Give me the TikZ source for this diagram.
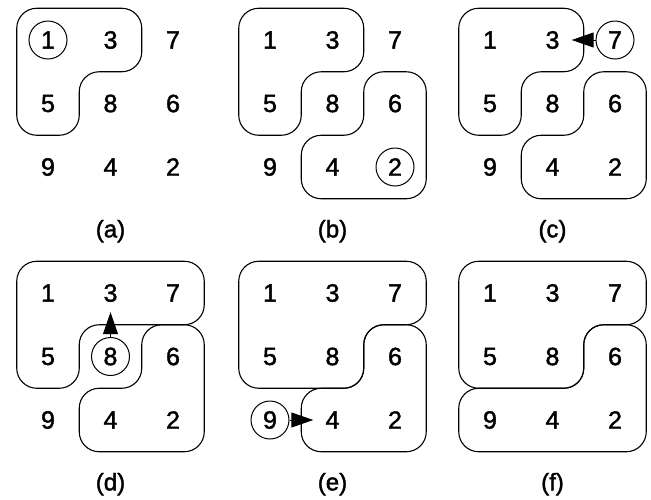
\documentclass[tikz,border=0pt]{standalone}
\usepackage{fontspec}
\setmainfont{Liberation Sans}
\newfontfamily\gridfont[FakeBold=1.6]{Liberation Sans}
\usetikzlibrary{arrows.meta}

\tikzset{
  digit/.style={circle, minimum size=38pt, inner sep=0pt, font=\gridfont\fontsize{25}{29}\selectfont},
  picked/.style={draw, line width=1pt},
  blob/.style={draw, line width=1.1pt, rounded corners=20pt},
  arr/.style={-{Triangle[length=22pt,width=15pt]}, line width=1pt},
  caption/.style={font=\gridfont\fontsize{24}{28}\selectfont}
}

% 3x3 grid of digits; #1 = panel letter, #2 = circled digit (0 for none)
\newcommand\gridcells[2]{%
  \foreach \d [count=\k from 0] in {1,3,7,5,8,6,9,4,2}{
    \pgfmathtruncatemacro\cc{mod(\k,3)}
    \pgfmathtruncatemacro\rr{\k/3}
    \ifnum\d=#2\relax\def\extra{picked}\else\def\extra{}\fi
    \node[digit,\extra] (#1-\d) at (\cc+0.5,\rr+0.5) {\d};
  }%
}
% region outlines, in grid-line units
\newcommand\regionA{\draw[blob] (0,0) -- (2,0) -- (2,1) -- (1,1) -- (1,2) -- (0,2) -- cycle;}
\newcommand\regionB{\draw[blob] (2,1) -- (3,1) -- (3,3) -- (1,3) -- (1,2) -- (2,2) -- cycle;}
\newcommand\regionC{\draw[blob] (0,0) -- (3,0) -- (3,1) -- (1,1) -- (1,2) -- (0,2) -- cycle;}
\newcommand\regionD{\draw[blob] (0,0) -- (3,0) -- (3,1) -- (2,1) -- (2,2) -- (0,2) -- cycle;}
\newcommand\regionE{\draw[blob] (2,1) -- (3,1) -- (3,3) -- (0,3) -- (0,2) -- (2,2) -- cycle;}

\begin{document}
\begin{tikzpicture}[x=1pt, y=-1pt]
\useasboundingbox (0,0) rectangle (651,499);

% (a)
\begin{scope}[xshift=16.75pt, yshift=-8.25pt, x=62.5pt, y=-63.5pt]
  \gridcells{a}{1}
  \regionA
  \node[caption] (a-cap) at (1.5,3.51) {(a)};
\end{scope}

% (b)
\begin{scope}[xshift=238.75pt, yshift=-8.25pt, x=62.5pt, y=-63.5pt]
  \gridcells{b}{2}
  \regionA
  \regionB
  \node[caption] (b-cap) at (1.5,3.51) {(b)};
\end{scope}

% (c)
\begin{scope}[xshift=458.75pt, yshift=-8.25pt, x=62.5pt, y=-63.5pt]
  \gridcells{c}{7}
  \regionA
  \regionB
  \draw[arr] (c-7) -- (c-3);
  \node[caption] (c-cap) at (1.5,3.51) {(c)};
\end{scope}

% (d)
\begin{scope}[xshift=16.75pt, yshift=-261.25pt, x=62.5pt, y=-63.5pt]
  \gridcells{d}{8}
  \regionC
  \regionB
  \draw[arr] (d-8) -- (d-3);
  \node[caption] (d-cap) at (1.5,3.51) {(d)};
\end{scope}

% (e)
\begin{scope}[xshift=238.75pt, yshift=-261.25pt, x=62.5pt, y=-63.5pt]
  \gridcells{e}{9}
  \regionD
  \regionB
  \draw[arr] (e-9) -- (e-4);
  \node[caption] (e-cap) at (1.5,3.51) {(e)};
\end{scope}

% (f)
\begin{scope}[xshift=458.75pt, yshift=-261.25pt, x=62.5pt, y=-63.5pt]
  \gridcells{f}{0}
  \regionD
  \regionE
  \node[caption] (f-cap) at (1.5,3.51) {(f)};
\end{scope}
\end{tikzpicture}
\end{document}
